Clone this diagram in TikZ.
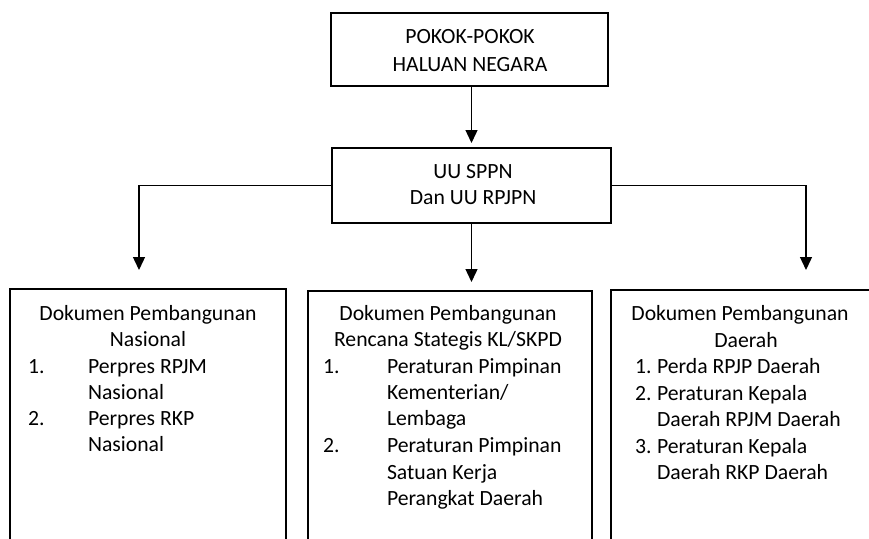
\documentclass[tikz,border=0pt]{standalone}
\usepackage{fontspec}
\setmainfont{Carlito}
\usetikzlibrary{arrows.meta}
\begin{document}
\begin{tikzpicture}[x=1pt,y=-1pt,
  box/.style={draw, line width=1.4pt, inner sep=0, outer sep=0, anchor=north west},
  txt/.style={inner sep=0, outer sep=0, font=\fontsize{21.7}{26}\selectfont},
  ctr/.style={txt, anchor=base},
  lft/.style={txt, anchor=base west},
  arr/.style={line width=1.4pt, -{Triangle[width=12pt,length=13pt]}}
]
\useasboundingbox (0,0) rectangle (869,538);
\clip (0,0) rectangle (869,538);

% upper boxes
\node[box, minimum width=277pt, minimum height=73pt] (top) at (331,13) {};
\node[ctr] (topA) at (470,43) {POKOK-POKOK};
\node[ctr] (topB) at (470,71) {HALUAN NEGARA};

\node[box, minimum width=279pt, minimum height=75pt] (mid) at (332,148) {};
\node[ctr] (midA) at (473,178) {UU SPPN};
\node[ctr] (midB) at (473,204) {Dan UU RPJPN};

% lower boxes (running past the lower edge)
\node[box, minimum width=276pt, minimum height=300pt] (nas) at (10,289) {};
\node[box, minimum width=284pt, minimum height=300pt] (ren) at (308,291) {};
\node[box, minimum width=270pt, minimum height=300pt] (dae) at (611,290) {};

% connectors
\coordinate (lt) at (139,270);
\coordinate (rt) at (806,270);
\draw[arr, shorten >=5pt] (top.south -| mid.north) -- (mid.north);
\draw[arr, shorten >=9pt] (mid.south) -- (mid.south |- ren.north);
\draw[arr] (mid.west) -| (lt);
\draw[arr] (mid.east) -| (rt);

% Dokumen Pembangunan Nasional
\node[ctr] (n1) at (148,320) {Dokumen Pembangunan};
\node[ctr] (n2) at (148,346) {Nasional};
\node[lft] (n3a) at (28,373) {1.};
\node[lft] (n3) at (88,373) {Perpres RPJM};
\node[lft] (n4) at (88,399) {Nasional};
\node[lft] (n5a) at (28,425) {2.};
\node[lft] (n5) at (88,425) {Perpres RKP};
\node[lft] (n6) at (88,451) {Nasional};

% Dokumen Pembangunan Rencana Strategis
\node[ctr] (r1) at (448,320) {Dokumen Pembangunan};
\node[ctr] (r2) at (448,346) {Rencana Stategis KL/SKPD};
\node[lft] (r3a) at (323,373) {1.};
\node[lft] (r3) at (387,373) {Peraturan Pimpinan};
\node[lft] (r4) at (387,399) {Kementerian/};
\node[lft] (r5) at (387,425) {Lembaga};
\node[lft] (r6a) at (323,452) {2.};
\node[lft] (r6) at (387,452) {Peraturan Pimpinan};
\node[lft] (r7) at (387,479) {Satuan Kerja};
\node[lft] (r8) at (387,505) {Perangkat Daerah};

% Dokumen Pembangunan Daerah
\node[ctr] (d1) at (740,320) {Dokumen Pembangunan};
\node[ctr] (d2) at (746,347) {Daerah};
\node[lft] (d3a) at (635,373) {1.};
\node[lft] (d3) at (657,373) {Perda RPJP Daerah};
\node[lft] (d4a) at (635,400) {2.};
\node[lft] (d4) at (657,400) {Peraturan Kepala};
\node[lft] (d5) at (657,426) {Daerah RPJM Daerah};
\node[lft] (d6a) at (635,453) {3.};
\node[lft] (d6) at (657,453) {Peraturan Kepala};
\node[lft] (d7) at (657,479) {Daerah RKP Daerah};
\end{tikzpicture}
\end{document}
